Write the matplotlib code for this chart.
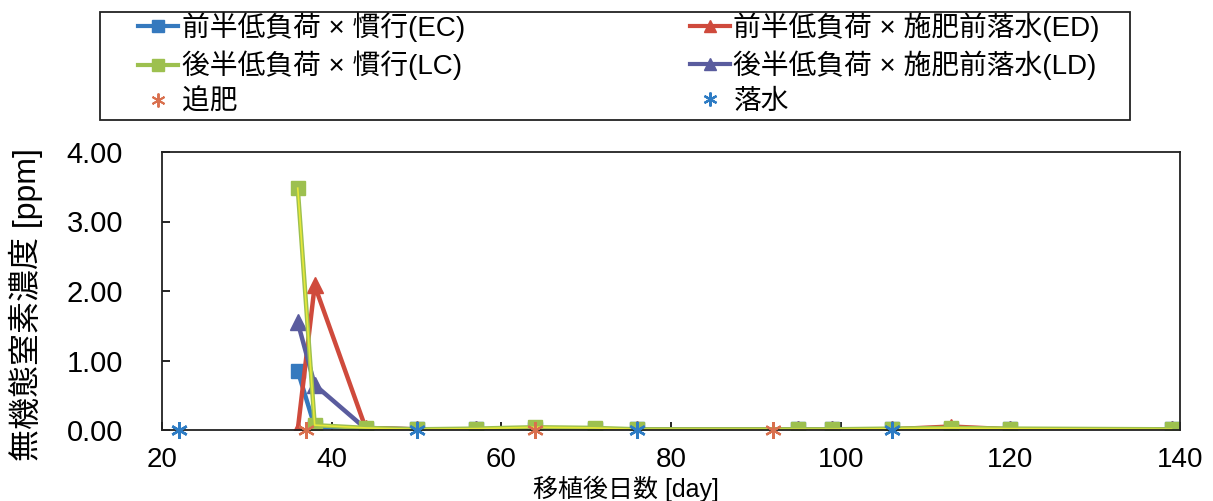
import matplotlib
matplotlib.use("Agg")
import matplotlib.pyplot as plt
from matplotlib.lines import Line2D
from matplotlib.patches import Rectangle

plt.rcParams['font.family'] = ['Liberation Sans', 'Noto Sans CJK JP', 'DejaVu Sans']

days = [36, 38, 44, 50, 57, 64, 71, 76, 95, 99, 106, 113, 120, 139]
EC = [0.85, 0.05, 0.02, 0.01, 0.01, 0.01, 0.01, 0.01, 0.01, 0.01, 0.01, 0.02, 0.01, 0.01]
ED = [0.00, 2.08, 0.03, 0.01, 0.01, 0.01, 0.01, 0.01, 0.01, 0.01, 0.01, 0.05, 0.01, 0.01]
LC = [3.48, 0.07, 0.03, 0.01, 0.02, 0.04, 0.03, 0.01, 0.01, 0.01, 0.02, 0.03, 0.02, 0.01]
LD = [1.55, 0.65, 0.02, 0.01, 0.01, 0.01, 0.01, 0.01, 0.01, 0.01, 0.01, 0.02, 0.01, 0.01]
fert_days = [37, 64, 92]
fert_vals = [0, 0, 0]
drain_days = [22, 50, 76, 106]
drain_vals = [0, 0, 0, 0]

labels = ['前半低負荷 × 慣行(EC)', '前半低負荷 × 施肥前落水(ED)',
          '後半低負荷 × 慣行(LC)', '後半低負荷 × 施肥前落水(LD)',
          '追肥', '落水']
yticks = [0, 1, 2, 3, 4]
xticks = [20, 40, 60, 80, 100, 120, 140]

c_ec = '#3579BE'
c_ed = '#CF4A3C'
c_lc = '#9DC04F'
c_ld = '#5A5C9E'
c_fert = '#D9704E'
c_drain = '#2E7CC4'

W, H = 1213, 501
fig = plt.figure(figsize=(W / 100, H / 100), dpi=100)
ax = fig.add_axes([162/W, 1-430/H, (1180-162)/W, (430-152)/H])

lw = 3.2
ms = 10
ax.plot(days, EC, color=c_ec, lw=lw, marker='s', ms=ms)
ax.plot(days, ED, color=c_ed, lw=lw, marker='^', ms=ms + 2)
ax.plot(days, LD, color=c_ld, lw=lw, marker='^', ms=ms + 2)
ax.plot(days, LC, color=c_lc, lw=lw, marker='s', ms=ms)
ax.plot(days, LC, color='#E6E83A', lw=1.2)
ax.plot(fert_days, fert_vals, ls='none', marker=(6, 2, 0), ms=12,
        mec=c_fert, mew=1.6, zorder=5, clip_on=False)
ax.plot(drain_days, drain_vals, ls='none', marker=(6, 2, 0), ms=12,
        mec=c_drain, mew=1.8, zorder=5, clip_on=False)

ax.set_xlim(20, 140)
ax.set_ylim(0, 4)
ax.set_xticks(xticks)
ax.set_yticks(yticks)
ax.set_yticklabels([f'{v:.2f}' for v in yticks])
ax.tick_params(direction='in', length=6, width=1.2, labelsize=21)
ax.tick_params(axis='y', pad=28)
ax.tick_params(axis='x', pad=12, labelsize=20)
for s in ax.spines.values():
    s.set_linewidth(1.3)
    s.set_color('#222222')

fig.text(26/W, 1-305/H, '無機態窒素濃度 [ppm]', fontsize=23, rotation=90,
         ha='center', va='center')
fig.text(626/W, 1-489/H, '移植後日数 [day]', fontsize=18, ha='center', va='center')

handles = [
    Line2D([0], [0], color=c_ec, lw=3, marker='s', ms=8),
    Line2D([0], [0], color=c_lc, lw=3, marker='s', ms=8),
    Line2D([0], [0], ls='none', marker=(6, 2, 0), ms=10, mec=c_fert, mew=1.4),
    Line2D([0], [0], color=c_ed, lw=3, marker='^', ms=9),
    Line2D([0], [0], color=c_ld, lw=3, marker='^', ms=9),
    Line2D([0], [0], ls='none', marker=(6, 2, 0), ms=10, mec=c_drain, mew=1.6),
]
leg_labels = [labels[0], labels[2], labels[4], labels[1], labels[3], labels[5]]
leg = fig.legend(handles, leg_labels, ncol=2,
                 bbox_to_anchor=(138/W, 1-12/H), loc='upper left',
                 fontsize=20, frameon=False, handlelength=1.45, handletextpad=0.12,
                 borderpad=0.0, labelspacing=0.32, columnspacing=8.1,
                 borderaxespad=0)
fig.patches.append(Rectangle((100/W, 1-120/H), 1030/W, 108/H,
                             transform=fig.transFigure, fill=False,
                             edgecolor='#222222', linewidth=1.3))

fig.savefig('out.png', dpi=100)
